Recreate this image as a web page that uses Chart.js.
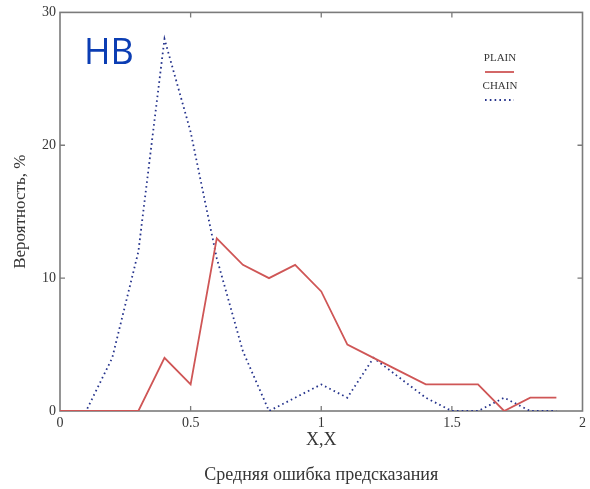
<!DOCTYPE html>
<html>
<head>
<meta charset="utf-8">
<script src="https://cdn.jsdelivr.net/npm/chart.js@4.4.0/dist/chart.umd.min.js"></script>
<style>
    html, body { margin: 0; padding: 0; background: #fff; }
</style>
</head>
<body>
<canvas id="errChart" width="590" height="489"></canvas>
<script>
// values (step 0.1)
const xValues = [0, 0.1, 0.2, 0.3, 0.4, 0.5, 0.6, 0.7, 0.8, 0.9, 1.0, 1.1, 1.2, 1.3, 1.4, 1.5, 1.6, 1.7, 1.8, 1.9];
const plainValues = [0, 0, 0, 0, 4, 2, 13, 11, 10, 11, 9, 5, 4, 3, 2, 2, 2, 0, 1, 1];
const chainValues = [0, 0, 4, 12, 28, 21, 11.5, 4.5, 0, 1, 2, 1, 4, 2.5, 1, 0, 0, 1, 0, 0];
const xTicks = [0, 0.5, 1, 1.5, 2];
const yTicks = [0, 10, 20, 30];

const axisGray = '#7b7b7b';
const textGray = '#363636';
const serif = "'Liberation Serif', 'DejaVu Serif', serif";

function toPoints(vals) {
    return xValues.map((x, i) => ({ x: x, y: vals[i] }));
}

// box round the plot, ticks pointing inwards on every side
const framePlugin = {
    id: 'frame',
    beforeDatasetsDraw(chart) {
        const { ctx, chartArea: a, scales } = chart;
        ctx.save();
        ctx.strokeStyle = axisGray;
        ctx.lineWidth = 1.6;
        ctx.strokeRect(a.left, a.top, a.right - a.left, a.bottom - a.top);
        ctx.lineWidth = 1.3;
        ctx.beginPath();
        xTicks.slice(1, -1).forEach(v => {
            const px = scales.x.getPixelForValue(v);
            ctx.moveTo(px, a.bottom); ctx.lineTo(px, a.bottom - 5);
            ctx.moveTo(px, a.top); ctx.lineTo(px, a.top + 5);
        });
        yTicks.slice(1, -1).forEach(v => {
            const py = scales.y.getPixelForValue(v);
            ctx.moveTo(a.left, py); ctx.lineTo(a.left + 5, py);
            ctx.moveTo(a.right, py); ctx.lineTo(a.right - 5, py);
        });
        ctx.stroke();
        ctx.restore();
    }
};

// legend: name above its line sample, top right
const legendPlugin = {
    id: 'stackLegend',
    afterDraw(chart) {
        const ctx = chart.ctx;
        ctx.save();
        chart.data.datasets.forEach((ds, i) => {
            const y = 58 + i * 28;
            ctx.font = '11px ' + serif;
            ctx.fillStyle = textGray;
            ctx.textAlign = 'center';
            ctx.textBaseline = 'middle';
            ctx.fillText(ds.label, 500, y);
            ctx.strokeStyle = ds.borderColor;
            ctx.lineWidth = ds.borderWidth;
            ctx.setLineDash(ds.borderDash || []);
            ctx.beginPath();
            ctx.moveTo(485, y + 14);
            ctx.lineTo(514, y + 14);
            ctx.stroke();
        });
        // "HB" mark
        ctx.setLineDash([]);
        ctx.font = "36px 'Open Sans', 'Noto Sans', sans-serif";
        ctx.fillStyle = '#0b3db3';
        ctx.textAlign = 'left';
        ctx.textBaseline = 'alphabetic';
        ctx.fillText('HB', 84, 64);
        ctx.restore();
    }
};

new Chart(document.getElementById('errChart'), {
    type: 'line',
    data: {
        datasets: [{
            label: 'PLAIN',
            data: toPoints(plainValues),
            borderColor: '#cf5656',
            borderWidth: 1.8,
            pointRadius: 0,
            tension: 0,
            fill: false
        }, {
            label: 'CHAIN',
            data: toPoints(chainValues),
            borderColor: '#25338c',
            borderWidth: 1.8,
            borderDash: [1.6, 3.2],
            pointRadius: 0,
            tension: 0,
            fill: false
        }]
    },
    options: {
        responsive: false,
        animation: false,
        events: [],
        layout: { padding: { top: 12, right: 7, left: 0, bottom: 0 } },
        plugins: {
            legend: { display: false },
            tooltip: { enabled: false }
        },
        scales: {
            x: {
                type: 'linear',
                min: 0,
                max: 2,
                grid: { display: false, drawTicks: false },
                border: { display: false },
                ticks: {
                    stepSize: 0.5, padding: 4, maxRotation: 0, color: textGray,
                    font: { family: serif, size: 14 },
                    callback: v => String(v)
                },
                title: {
                    display: true,
                    text: ['X,X', 'Средняя ошибка предсказания'],
                    color: textGray,
                    font: { family: serif, size: 18, lineHeight: '35px' },
                    padding: { top: 0, bottom: -4 }
                },
                afterFit(scale) { scale.height = 78; }
            },
            y: {
                min: 0,
                max: 30,
                grid: { display: false, drawTicks: false },
                border: { display: false },
                ticks: { stepSize: 10, padding: 4, color: textGray, font: { family: serif, size: 14 } },
                title: {
                    display: true,
                    text: 'Вероятность, %',
                    color: textGray,
                    font: { family: serif, size: 17 },
                    padding: { top: 10, bottom: 0 }
                },
                afterFit(scale) { scale.width = 60; }
            }
        }
    },
    plugins: [framePlugin, legendPlugin]
});
</script>
</body>
</html>
